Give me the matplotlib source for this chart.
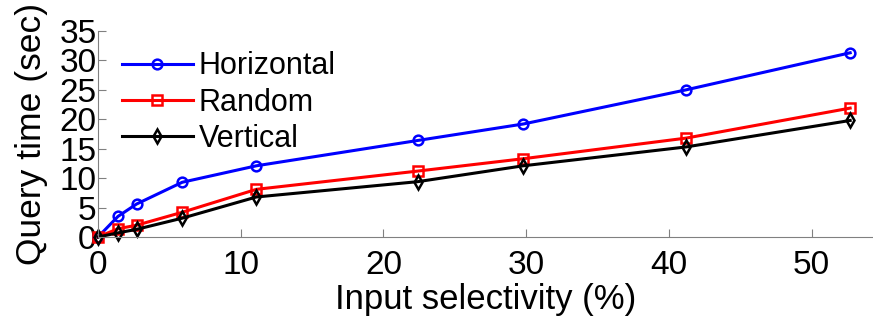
import matplotlib
matplotlib.use("Agg")
from matplotlib import pyplot as plt

# input selectivity (%) and query times (sec)
selectivity = [0, 1.4, 2.7, 5.9, 11.1, 22.4, 29.8, 41.2, 52.7]
horizontal = [0, 3.5, 5.6, 9.3, 12.1, 16.4, 19.2, 25.0, 31.3]
random_ = [0, 1.4, 2.0, 4.2, 8.1, 11.2, 13.3, 16.8, 21.9]
vertical = [0, 0.7, 1.3, 3.2, 6.8, 9.4, 12.1, 15.3, 19.8]

plt.rcParams['font.family'] = ['Liberation Sans', 'DejaVu Sans']

fig = plt.figure(figsize=(8.73, 3.2), dpi=100)
ax = fig.add_axes([98/873, 83/320, 1 - 98/873, 206/320])

style = dict(lw=2.2, ms=7, mew=1.8, mfc='none', clip_on=False)
ax.plot(selectivity, horizontal, '-o', color='#0000ff', label='Horizontal', **style)
ax.plot(selectivity, random_, '-s', color='#ff0000', label='Random',
        ms=6.5, lw=2.2, mew=1.8, mfc='none', clip_on=False)
ax.plot(selectivity, vertical, '-d', color='#000000', label='Vertical', **style)

ax.set_xlim(0, 54.3)
ax.set_ylim(0, 35)
ax.set_xticks([0, 10, 20, 30, 40, 50])
ax.set_yticks(range(0, 36, 5))
for s in ['top', 'right']:
    ax.spines[s].set_visible(False)
for s in ['left', 'bottom']:
    ax.spines[s].set_color('#808080')
ax.tick_params(direction='in', length=6, color='#808080', labelsize=24)
ax.tick_params(axis='y', pad=1)
ax.tick_params(axis='x', pad=9)
ax.set_xlabel('Input selectivity (%)', fontsize=25, labelpad=2)
ax.set_ylabel('Query time (sec)', fontsize=25.5, labelpad=8)

ax.legend(loc='upper left', bbox_to_anchor=(0.0155, 0.96), frameon=False, fontsize=22,
          handlelength=2.3, handletextpad=0.2, labelspacing=0.2, borderaxespad=0)

fig.savefig('out.png', dpi=100)
